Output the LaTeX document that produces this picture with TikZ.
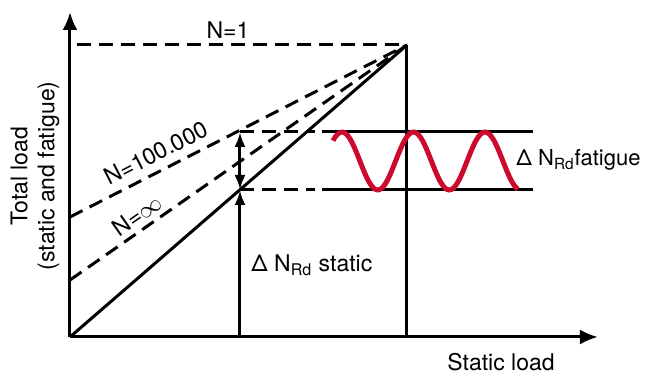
\documentclass[tikz,border=0pt]{standalone}
\usepackage{fontspec}
\setmainfont{TeX Gyre Heros}
\usetikzlibrary{arrows.meta}
\definecolor{loadred}{RGB}{204,10,45}
\begin{document}
\begin{tikzpicture}[
  x=0.5pt, y=-0.5pt,
  every node/.style={font=\fontsize{11.5}{13.5}\selectfont, inner sep=1pt},
  axis/.style={line width=1.5pt, -{Latex[length=9pt,width=7.5pt]}},
  solidline/.style={line width=1.5pt},
  dashline/.style={line width=1.5pt, dash pattern=on 7pt off 4pt},
  loadarrow/.style={line width=1.5pt, -{Latex[length=7.5pt,width=5.5pt]}},
  wave/.style={line width=2.5pt, draw=loadred}
]
\useasboundingbox (0,0) rectangle (645,373);
% axes
\coordinate (O) at (70,337);
\coordinate (ytip) at (70,12);
\coordinate (xtip) at (598,337);
\draw[axis] (O) -- (ytip);
\draw[axis] (O) -- (xtip);
% load lines
\coordinate (top) at (407,45);
\coordinate (topleft) at (77,45);
\coordinate (base) at (407,337);
\coordinate (nfive) at (70,217);
\coordinate (ninf) at (70,280);
\draw[dashline] (topleft) -- (top);
\draw[solidline] (base) -- (top);
\draw[solidline] (O) -- (top);
\draw[dashline] (nfive) -- (top);
\draw[dashline] (ninf) -- (top);
% static and fatigue part
\coordinate (sbot) at (240,337);
\coordinate (smid) at (240,190);
\coordinate (stop) at (240,132);
\coordinate (dtop) at (315,132);
\coordinate (dmid) at (315,190);
\coordinate (ltop) at (322,132);
\coordinate (lmid) at (322,190);
\coordinate (rtop) at (533,132);
\coordinate (rmid) at (533,190);
\draw[loadarrow] (sbot) -- (smid);
\draw[loadarrow, {Latex[length=7.5pt,width=5.5pt]}-{Latex[length=7.5pt,width=5.5pt]}] (stop) -- (smid);
\draw[dashline] (stop) -- (dtop);
\draw[dashline] (smid) -- (dmid);
\draw[solidline] (ltop) -- (rtop);
\draw[solidline] (lmid) -- (rmid);
\draw[wave] plot[domain=333:518, samples=90, smooth] (\x, {161-29*cos(5.035*(\x-342))});
% labels
\node (none) at (228,30) {N=1};
\node[rotate=27] (nfivelbl) at (156,153) {N=100.000};
\node[rotate=35] (ninflbl) at (137,215) {N=$\infty$};
\node[anchor=west] (staticlbl) at (249,265) {Δ N\textsubscript{Rd} static};
\node[anchor=west, inner sep=0pt, font=\fontsize{11}{13}\selectfont] (fatiguelbl) at (516,160) {Δ N\textsubscript{Rd}fatigue};
\node (xlbl) at (501,362) {Static load};
\node[rotate=90, align=center] (ylbl) at (35,176) {Total load\\(static and fatigue)};
\end{tikzpicture}
\end{document}
